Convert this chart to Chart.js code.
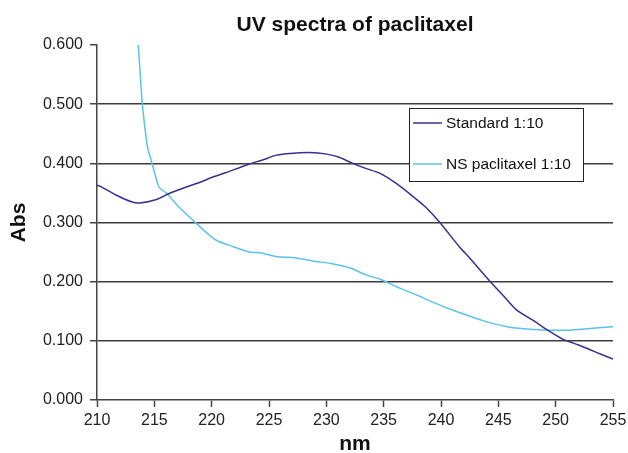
<!DOCTYPE html>
<html>
<head>
<meta charset="utf-8">
<script src="https://cdn.jsdelivr.net/npm/chart.js@4/dist/chart.umd.min.js"></script>
<style>
  html, body { margin: 0; padding: 0; background: #fff; }
  #wrap { width: 628px; height: 453px; }
</style>
</head>
<body>
<div id="wrap"><canvas id="chart-uv" width="628" height="453"></canvas></div>
<script>
// Données
const standardNm = [210.0, 210.3, 211.7, 213.0, 213.7, 215.2, 216.3, 218.1, 219.0, 220.0, 221.2, 223.3, 224.5, 225.5, 226.5, 227.7, 229.0, 229.9, 231.0, 232.3, 233.5, 234.7, 236.1, 237.3, 238.6, 239.9, 241.6, 242.5, 244.3, 245.5, 246.6, 248.0, 249.3, 250.6, 252.0, 253.0, 254.0, 255.0];
const standardAbs = [0.363, 0.361, 0.346, 0.335, 0.333, 0.339, 0.349, 0.362, 0.368, 0.376, 0.384, 0.399, 0.406, 0.413, 0.416, 0.418, 0.418, 0.416, 0.411, 0.400, 0.391, 0.383, 0.366, 0.348, 0.327, 0.300, 0.259, 0.240, 0.200, 0.175, 0.152, 0.135, 0.118, 0.103, 0.093, 0.085, 0.077, 0.069];

const nsNm = [213.4, 213.6, 213.9, 214.1, 214.4, 214.8, 215.4, 216.1, 217.1, 218.3, 219.3, 220.4, 221.9, 223.3, 224.2, 225.7, 227.1, 228.8, 230.6, 232.1, 233.5, 234.7, 236.4, 238.2, 238.7, 241.0, 244.0, 246.0, 247.5, 249.2, 251.2, 253.0, 255.0];
const nsAbs = [0.640, 0.600, 0.513, 0.473, 0.428, 0.400, 0.360, 0.349, 0.327, 0.305, 0.287, 0.270, 0.259, 0.250, 0.249, 0.242, 0.241, 0.235, 0.230, 0.223, 0.211, 0.204, 0.189, 0.175, 0.170, 0.152, 0.132, 0.123, 0.120, 0.118, 0.118, 0.121, 0.124];

const seriesLabels = ['Standard 1:10', 'NS paclitaxel 1:10'];
const seriesColors = ['#3b2f8f', '#5bc3e8'];

const FONT = '"Liberation Sans", Arial, Helvetica, sans-serif';

function toPoints(xs, ys) {
    return xs.map(function(x, i) { return { x: x, y: ys[i] }; });
}

// Titre + légende dessinés à la main
const decorPlugin = {
    id: 'decor',
    afterDraw: function(chart) {
        const ctx = chart.ctx;
        const area = chart.chartArea;
        ctx.save();
        ctx.fillStyle = '#111';
        ctx.font = 'bold 21px ' + FONT;
        ctx.textAlign = 'center';
        ctx.textBaseline = 'alphabetic';
        ctx.fillText('UV spectra of paclitaxel', (area.left + area.right) / 2, 31);

        // légende
        const bx = 409.5, by = 108.5, bw = 174, bh = 73;
        ctx.fillStyle = '#fff';
        ctx.fillRect(bx, by, bw, bh);
        ctx.strokeStyle = '#222';
        ctx.lineWidth = 1;
        ctx.strokeRect(bx, by, bw, bh);
        const rows = [123, 164];
        ctx.font = '15.5px ' + FONT;
        ctx.textAlign = 'left';
        ctx.textBaseline = 'middle';
        chart.data.datasets.forEach(function(ds, i) {
            ctx.strokeStyle = ds.borderColor;
            ctx.lineWidth = 1.5;
            ctx.beginPath();
            ctx.moveTo(413, rows[i]);
            ctx.lineTo(442, rows[i]);
            ctx.stroke();
            ctx.fillStyle = '#111';
            ctx.fillText(ds.label, 446, rows[i] + 1);
        });
        ctx.restore();
    }
};

const ctx = document.getElementById('chart-uv');
new Chart(ctx, {
    type: 'line',
    data: {
        datasets: [
            {
                label: seriesLabels[0],
                data: toPoints(standardNm, standardAbs),
                borderColor: seriesColors[0],
                borderWidth: 1.5,
                pointRadius: 0,
                tension: 0.2,
                fill: false
            },
            {
                label: seriesLabels[1],
                data: toPoints(nsNm, nsAbs),
                borderColor: seriesColors[1],
                borderWidth: 1.5,
                pointRadius: 0,
                tension: 0.2,
                fill: false
            }
        ]
    },
    options: {
        responsive: false,
        animation: false,
        layout: { padding: { top: 45, right: 15, left: 0, bottom: 0 } },
        plugins: {
            legend: { display: false },
            title: { display: false },
            tooltip: { enabled: false }
        },
        scales: {
            x: {
                type: 'linear',
                min: 210,
                max: 255,
                afterFit: function(scale) {
                    scale.height = 53;
                    scale.paddingRight = 0;
                    scale.paddingLeft = 0;
                },
                ticks: {
                    stepSize: 5,
                    padding: 4,
                    color: '#222',
                    font: { family: FONT, size: 16 },
                    maxRotation: 0
                },
                grid: {
                    drawOnChartArea: false,
                    drawTicks: true,
                    tickLength: 7,
                    tickColor: '#444',
                    tickWidth: 1.5
                },
                border: { color: '#444', width: 1.5 },
                title: {
                    display: true,
                    text: 'nm',
                    color: '#111',
                    font: { family: FONT, size: 21, weight: 'bold', lineHeight: 0.8 },
                    padding: { top: 0, bottom: 0 }
                }
            },
            y: {
                min: 0,
                max: 0.6,
                afterFit: function(scale) { scale.width = 97; },
                ticks: {
                    stepSize: 0.1,
                    padding: 7,
                    color: '#222',
                    font: { family: FONT, size: 16 },
                    callback: function(v) { return Number(v).toFixed(3); }
                },
                grid: {
                    tickLength: 7,
                    tickColor: '#444',
                    tickWidth: 1.5,
                    lineWidth: 1.5,
                    color: function(c) {
                        if (c.tick && (c.tick.value === 0 || c.tick.value > 0.55)) return 'rgba(0,0,0,0)';
                        return '#3c3c3c';
                    }
                },
                border: { color: '#444', width: 1.5 },
                title: {
                    display: true,
                    text: 'Abs',
                    color: '#111',
                    font: { family: FONT, size: 21, weight: 'bold' },
                    padding: { top: 7, bottom: 0 }
                }
            }
        }
    },
    plugins: [decorPlugin]
});
</script>
</body>
</html>
